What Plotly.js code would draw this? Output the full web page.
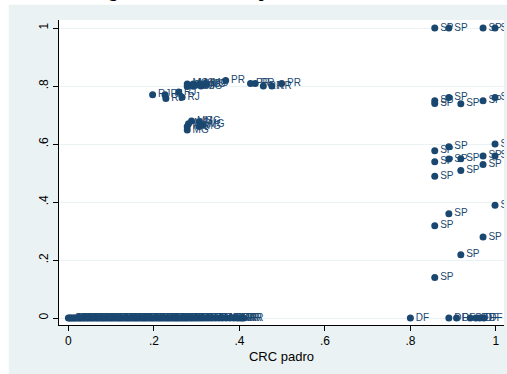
<!DOCTYPE html>
<html>
<head>
<meta charset="utf-8">
<script src="https://cdn.plot.ly/plotly-3.0.1.min.js"></script>
<style>
  html, body { margin: 0; padding: 0; background: #ffffff; }
  #chart { width: 507px; height: 374px; }
</style>
</head>
<body>
<div id="chart"></div>
<script>
// ---- data ----
// Municipalities with share = 0 (dense band)
const zeroX = [0.000,0.003,0.006,0.010,0.014,0.017,0.022,0.026,0.029,0.034,0.038,0.043,0.047,0.052,0.056,0.061,0.066,0.070,0.075,0.080,0.084,0.089,0.094,0.099,0.103,0.108,0.113,0.118,0.122,0.127,0.132,0.137,0.141,0.146,0.151,0.156,0.160,0.165,0.170,0.175,0.179,0.184,0.189,0.194,0.198,0.203,0.208,0.213,0.217,0.222,0.227,0.232,0.236,0.241,0.246,0.251,0.255,0.260,0.265,0.270,0.275,0.280,0.286,0.291,0.297,0.303,0.309,0.315,0.322,0.329,0.336,0.344,0.352,0.360,0.369,0.378,0.387,0.395,0.401,0.406,0.410];
const zeroY = [0,0,0,0,0,0,0,0,0,0,0,0,0,0,0,0,0,0,0,0,0,0,0,0,0,0,0,0,0,0,0,0,0,0,0,0,0,0,0,0,0,0,0,0,0,0,0,0,0,0,0,0,0,0,0,0,0,0,0,0,0,0,0,0,0,0,0,0,0,0,0,0,0,0,0,0,0,0,0,0,0];
const zeroL = ["AC","AL","AM","BA","CE","GO","MA","MT","PA","PB","PE","PI","RN","RO","SC","SE","TO","RS","MS","AL","BA","CE","MA","PA","PB","PE","PI","RN","SE","TO","GO","MT","MS","RS","SC","BA","CE","MA","PA","PB","PE","PI","RN","SE","GO","MT","RS","SC","BA","CE","MA","PA","PB","PE","PI","RN","GO","MT","RS","SC","BA","CE","MA","PA","PB","PE","GO","MT","RS","SC","AM","PA","RO","AC","AP","RR","AM","RR","RR","RR","RR"];

// Middle group (RJ, MG, PR, RR)
const midX = [0.197,0.226,0.228,0.258,0.266,0.278,0.278,0.283,0.292,0.292,0.306,0.310,0.318,0.324,0.368,0.426,0.437,0.456,0.476,0.499,0.278,0.278,0.281,0.288,0.306,0.306,0.315];
const midY = [0.770,0.770,0.757,0.779,0.761,0.807,0.798,0.803,0.807,0.799,0.806,0.800,0.806,0.808,0.819,0.809,0.809,0.800,0.800,0.809,0.660,0.648,0.670,0.679,0.677,0.660,0.666];
const midL = ["RJ","RJ","RJ","RJ","RJ","MG","MG","ES","MG","MG","MG","MG","MG","MG","PR","PR","PR","RR","RR","PR","MG","MG","MG","MG","MG","MG","MG"];

// São Paulo group
const spX = [0.857,0.890,0.970,0.998,0.857,0.857,0.890,0.918,0.970,0.998,0.857,0.890,0.998,0.857,0.890,0.918,0.970,0.998,0.970,0.918,0.857,0.998,0.890,0.857,0.970,0.918,0.857];
const spY = [1.000,1.000,1.000,1.000,0.749,0.740,0.760,0.739,0.749,0.760,0.577,0.591,0.600,0.539,0.548,0.549,0.559,0.559,0.529,0.509,0.489,0.389,0.360,0.318,0.279,0.218,0.140];
const spL = ["SP","SP","SP","SP","SP","SP","SP","SP","SP","SP","SP","SP","SP","SP","SP","SP","SP","SP","SP","SP","SP","SP","SP","SP","SP","SP","SP"];

// Distrito Federal group
const dfX = [0.800,0.890,0.908,0.940,0.953,0.962,0.972];
const dfY = [0,0,0,0,0,0,0];
const dfL = ["DF","DF","DF","DF","DF","DF","DF"];

const xTicks = [0,0.2,0.4,0.6,0.8,1];
const xTickText = ["0",".2",".4",".6",".8","1"];
const yTicks = [0,0.2,0.4,0.6,0.8,1];
const yTickText = ["0",".2",".4",".6",".8","1"];
const titleText = "Margem de voto e CRC: padrão nos estados";

// ---- chart ----
const navy = "#1a476f";
const bg = "#eaf2f3";

function group(x, y, t) {
  return {
    x: x, y: y, text: t,
    type: "scatter",
    mode: "markers+text",
    textposition: "middle right",
    marker: { color: navy, size: 7, line: { width: 0 } },
    textfont: { family: "Liberation Sans, Arial, sans-serif", size: 10, color: navy },
    cliponaxis: true,
    hoverinfo: "x+y+text",
    showlegend: false
  };
}

const data = [
  group(zeroX, zeroY, zeroL),
  group(midX, midY, midL),
  group(spX, spY, spL),
  group(dfX, dfY, dfL)
];

const layout = {
  width: 507,
  height: 374,
  margin: { l: 59, r: 3, t: 20, b: 49, pad: 0 },
  paper_bgcolor: "#ffffff",
  plot_bgcolor: "#ffffff",
  showlegend: false,
  annotations: [
    { text: titleText, showarrow: false,
      font: { family: "Liberation Serif, Times New Roman, serif", size: 17, weight: "bold", color: "#000000" },
      xref: "paper", yref: "paper", x: 0.036, xanchor: "left", y: 1.092, yanchor: "middle" }
  ],
  shapes: [
    { type: "rect", xref: "paper", yref: "paper", x0: -0.113, x1: 1.02, y0: -0.2, y1: 1.05,
      fillcolor: bg, line: { width: 0 }, layer: "below" },
    { type: "rect", xref: "paper", yref: "paper", x0: 0, x1: 1, y0: 0, y1: 1,
      fillcolor: "#ffffff", line: { width: 0 }, layer: "below" }
  ],
  xaxis: {
    range: [-0.022, 1.019],
    tickvals: xTicks, ticktext: xTickText,
    ticks: "outside", ticklen: 5, tickcolor: "#000000", tickwidth: 1,
    showline: true, linecolor: "#000000", linewidth: 1,
    showgrid: false, zeroline: false,
    tickfont: { family: "Liberation Sans, Arial, sans-serif", size: 12, color: "#000000" },
    title: { text: "CRC padro", font: { family: "Liberation Sans, Arial, sans-serif", size: 13, color: "#000000" }, standoff: 4 },
    automargin: false
  },
  yaxis: {
    range: [-0.024, 1.0276],
    tickvals: yTicks, ticktext: yTickText,
    tickangle: -90,
    ticks: "outside", ticklen: 5, tickcolor: "#000000", tickwidth: 1,
    showline: true, linecolor: "#000000", linewidth: 1,
    showgrid: true, gridcolor: bg, gridwidth: 1,
    zeroline: false,
    tickfont: { family: "Liberation Sans, Arial, sans-serif", size: 12, color: "#000000" },
    automargin: false
  }
};

Plotly.newPlot("chart", data, layout, { displayModeBar: false, staticPlot: true });
</script>
</body>
</html>
